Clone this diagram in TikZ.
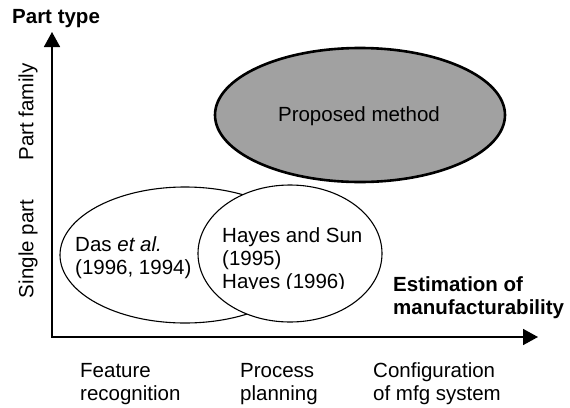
\documentclass[tikz,border=0pt]{standalone}
\usepackage{fontspec}
\setmainfont{Liberation Sans}
\usetikzlibrary{arrows.meta,shapes.geometric}
\begin{document}
\begin{tikzpicture}[x=1pt,y=-1pt,
  txt/.style={font=\fontsize{20.5}{23}\selectfont, inner sep=0pt, align=left},
  btxt/.style={font=\fontsize{20.5}{22.5}\selectfont\bfseries, inner sep=0pt, align=left},
  axis/.style={line width=1.7pt, {Triangle[length=15pt,width=16pt]}-{Triangle[length=15pt,width=16pt]}},
  thin ell/.style={ellipse, draw, line width=1.1pt, inner sep=0pt},
]
\useasboundingbox (0,0) rectangle (570,407);
% axes
\coordinate (O) at (52,337);
\coordinate (ytip) at (52,32);
\coordinate (xtip) at (538,337);
\draw[axis] (ytip) -- (O) -- (xtip);
% axis titles
\node[btxt, anchor=base west] (ptype) at (12,23) {Part type};
\node[btxt, anchor=base west] (est) at (393,314) {Estimation of\\manufacturability};
% y labels
\node[txt, rotate=90] (pfam) at (28,112) {Part family};
\node[txt, rotate=90] (spart) at (28,249) {Single part};
% x labels
\node[txt, anchor=base west] (feat) at (80,400) {Feature\\recognition};
\node[txt, anchor=base west] (proc) at (240,400) {Process\\planning};
\node[txt, anchor=base west] (conf) at (373,400) {Configuration\\of mfg system};
% proposed method
\node[ellipse, draw, line width=2.6pt, fill=black!37, minimum width=290pt, minimum height=134pt, inner sep=0pt] (prop) at (360,115) {};
\node[txt, anchor=base] (proptext) at (359,121) {Proposed method};
% Das ellipse
\node[thin ell, minimum width=250pt, minimum height=136pt] (das) at (185,255) {};
\node[txt, anchor=base west] (dastext) at (75,274) {Das \textit{et al.}\\(1996, 1994)};
% Hayes ellipse
\node[thin ell, fill=white, minimum width=184pt, minimum height=137pt] (hayes) at (290,253.5) {};
\node[txt, anchor=base west] (hayestext) at (222,265) {Hayes and Sun\\(1995)};
\begin{scope}
\clip (205,268) rectangle (380,288.3);
\node[txt, anchor=base west] (hayes96) at (222,288) {Hayes (1996)};
\end{scope}
\end{tikzpicture}
\end{document}
